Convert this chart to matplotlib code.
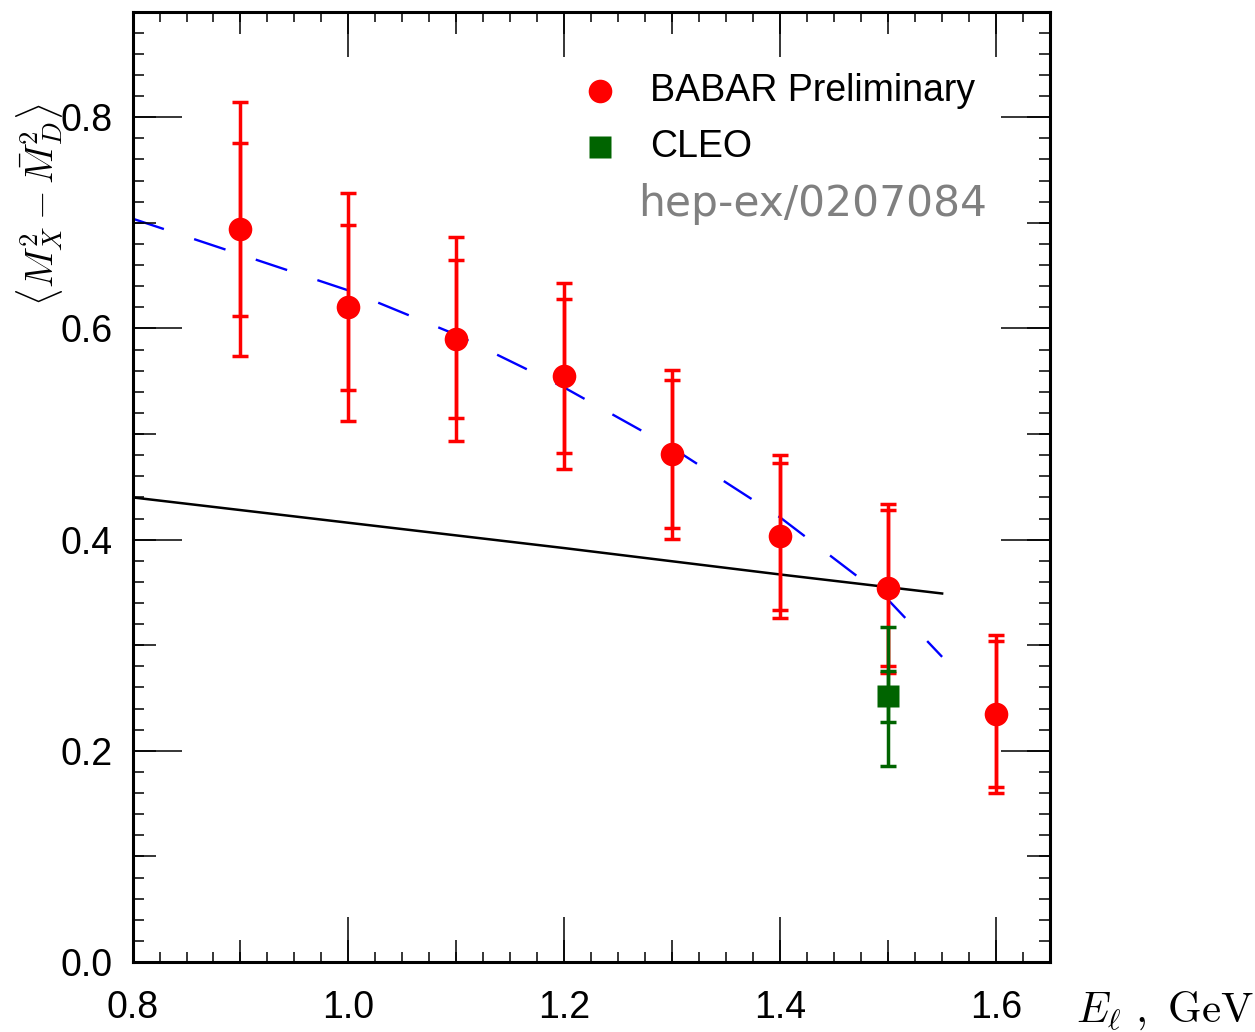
import matplotlib
matplotlib.use("Agg")
import matplotlib.pyplot as plt
from matplotlib.ticker import MultipleLocator

plt.rcParams['font.family'] = ['Liberation Sans', 'DejaVu Sans']
plt.rcParams['mathtext.fontset'] = 'cm'

# BABAR preliminary points: lepton energy cut, moment, stat and total errors
babar_e = [0.9, 1.0, 1.1, 1.2, 1.3, 1.4, 1.5, 1.6]
babar_m = [0.694, 0.620, 0.590, 0.555, 0.481, 0.403, 0.354, 0.235]
babar_stat = [0.082, 0.078, 0.075, 0.073, 0.070, 0.070, 0.074, 0.069]
babar_tot = [0.120, 0.108, 0.097, 0.088, 0.080, 0.077, 0.080, 0.075]

# CLEO point
cleo_e = [1.5]
cleo_m = [0.2515]
cleo_stat = [0.024]
cleo_tot = [0.066]

# theory curves
solid_e = [0.8, 1.0, 1.2, 1.4, 1.55]
solid_m = [0.440, 0.416, 0.392, 0.367, 0.349]
dash_e = [0.8, 0.9, 1.0, 1.1, 1.2, 1.3, 1.4, 1.5, 1.55]
dash_m = [0.704, 0.670, 0.636, 0.594, 0.544, 0.487, 0.421, 0.343, 0.289]

fig = plt.figure(figsize=(12.55, 10.32), dpi=100)
pos = [0.1056, 0.0678, 0.7311, 0.9209]
ax = fig.add_axes(pos)

ax.plot(solid_e, solid_m, color='black', lw=1.8, zorder=2)
ax.plot(dash_e, dash_m, color='blue', lw=1.7, dashes=(14, 13.5), zorder=2)

eb = dict(fmt='none', capsize=5.6, capthick=2.5, elinewidth=2.5, zorder=3)
ax.errorbar(babar_e, babar_m, yerr=babar_tot, ecolor='red', **eb)
ax.errorbar(babar_e, babar_m, yerr=babar_stat, ecolor='red', **eb)
ax.errorbar(cleo_e, cleo_m, yerr=cleo_tot, ecolor='#006400', **eb)
ax.errorbar(cleo_e, cleo_m, yerr=cleo_stat, ecolor='#006400', **eb)
ax.plot(babar_e, babar_m, 'o', color='red', ms=17, mec='none', zorder=4)
ax.plot(cleo_e, cleo_m, 's', color='#006400', ms=16.5, mec='none', zorder=4)

ax.set_xlim(0.8, 1.65)
ax.set_ylim(0.0, 0.9)
ax.xaxis.set_major_locator(MultipleLocator(0.2))
ax.xaxis.set_minor_locator(MultipleLocator(0.025))
ax.yaxis.set_major_locator(MultipleLocator(0.2))
ax.yaxis.set_minor_locator(MultipleLocator(0.02))
ax.xaxis.set_major_formatter(plt.FuncFormatter(lambda v, p: f'{v:.1f}'))
ax.yaxis.set_major_formatter(plt.FuncFormatter(lambda v, p: f'{v:.1f}'))
ax.tick_params(which='both', direction='in', top=True, right=True, width=1.1, labelsize=27)
ax.tick_params(axis='x', which='major', length=32.4, pad=20)
ax.tick_params(axis='x', which='minor', length=7.2)
ax.tick_params(axis='y', which='major', length=35.3, pad=14)
ax.tick_params(axis='y', which='minor', length=7.9)
for s in ax.spines.values():
    s.set_linewidth(2.2)

# medium ticks every 0.1 on an overlay axes
mid = fig.add_axes(pos)
mid.patch.set_visible(False)
for s in mid.spines.values():
    s.set_visible(False)
mid.set_xlim(0.8, 1.65)
mid.set_ylim(0.0, 0.9)
mid.xaxis.set_major_locator(MultipleLocator(0.1))
mid.yaxis.set_major_locator(MultipleLocator(0.1))
mid.tick_params(which='major', direction='in', top=True, right=True, width=1.1,
                labelbottom=False, labelleft=False)
mid.tick_params(axis='x', which='major', length=15.8)
mid.tick_params(axis='y', which='major', length=16.6)

# legend drawn by hand
ax.plot([0.509], [0.917], 'o', color='red', ms=17, mec='none', transform=ax.transAxes, clip_on=False)
ax.plot([0.509], [0.858], 's', color='#006400', ms=16.5, mec='none', transform=ax.transAxes, clip_on=False)
ax.text(0.564, 0.917, 'BABAR Preliminary', fontsize=27, va='center', ha='left', transform=ax.transAxes)
ax.text(0.564, 0.858, 'CLEO', fontsize=27, va='center', ha='left', transform=ax.transAxes)
ax.text(0.551, 0.798, 'hep-ex/0207084', fontsize=30.5, color='#808080', va='center', ha='left',
        family='DejaVu Sans', transform=ax.transAxes)

ax.text(-0.101, 0.797, r'$\langle M_X^2 - \bar{M}_D^2 \rangle$', fontsize=27.5, rotation=90,
        ha='center', va='center', transform=ax.transAxes)
fig.text(0.857, 0.021, r'$E_\ell\ ,\ \mathrm{GeV}$', fontsize=31, ha='left', va='center')

fig.savefig('out.png', dpi=100)
